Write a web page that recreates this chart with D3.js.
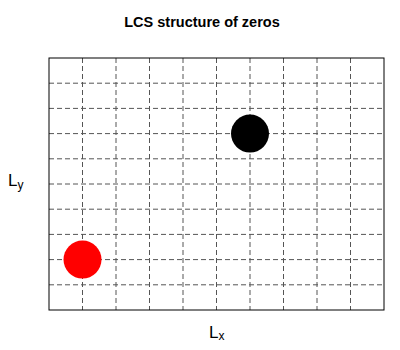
<!DOCTYPE html>
<html>
<head>
<script src="https://cdn.jsdelivr.net/npm/d3@7"></script>
<style>
  body { margin: 0; background: #fff; }
  text { font-family: "Liberation Sans", Arial, sans-serif; }
</style>
</head>
<body>
<script>
// chart values
var gridTicks = [1, 2, 3, 4, 5, 6, 7, 8, 9];
var pointX = [6, 1];
var pointY = [7, 2];
var pointColor = ["black", "red"];
var titleText = "LCS structure of zeros";

var W = 400, H = 350;
var plotL = 49, plotR = 384, plotT = 58, plotB = 310;

var svg = d3.select("body").append("svg")
    .attr("width", W)
    .attr("height", H);

var x = d3.scaleLinear().domain([0, 10]).range([plotL, plotR]);
var y = d3.scaleLinear().domain([0, 10]).range([plotB, plotT]);

// grid
svg.selectAll(".vgrid")
    .data(gridTicks)
    .enter().append("line")
    .attr("x1", function(d) { return x(d); })
    .attr("x2", function(d) { return x(d); })
    .attr("y1", plotT)
    .attr("y2", plotB)
    .attr("stroke", "#555")
    .attr("stroke-width", 1)
    .attr("stroke-dasharray", "5,3");

svg.selectAll(".hgrid")
    .data(gridTicks)
    .enter().append("line")
    .attr("y1", function(d) { return y(d); })
    .attr("y2", function(d) { return y(d); })
    .attr("x1", plotL)
    .attr("x2", plotR)
    .attr("stroke", "#555")
    .attr("stroke-width", 1)
    .attr("stroke-dasharray", "5,3");

// frame
svg.append("rect")
    .attr("x", plotL)
    .attr("y", plotT)
    .attr("width", plotR - plotL)
    .attr("height", plotB - plotT)
    .attr("fill", "none")
    .attr("stroke", "black")
    .attr("stroke-width", 1);

// points
svg.selectAll("circle")
    .data(pointX)
    .enter().append("circle")
    .attr("cx", function(d) { return x(d); })
    .attr("cy", function(d, i) { return y(pointY[i]); })
    .attr("r", 19)
    .attr("fill", function(d, i) { return pointColor[i]; });

// title
svg.append("text")
    .attr("x", 202)
    .attr("y", 27)
    .attr("text-anchor", "middle")
    .attr("font-size", 14.5)
    .attr("font-weight", "bold")
    .text(titleText);

// axis labels
var lx = svg.append("text")
    .attr("x", 209)
    .attr("y", 338)
    .attr("font-size", 17);
lx.append("tspan").text("L");
lx.append("tspan").attr("font-size", 12).attr("dy", 2).text("x");

var ly = svg.append("text")
    .attr("x", 8)
    .attr("y", 186)
    .attr("font-size", 17);
ly.append("tspan").text("L");
ly.append("tspan").attr("font-size", 12).attr("dy", 3).text("y");
</script>
</body>
</html>
